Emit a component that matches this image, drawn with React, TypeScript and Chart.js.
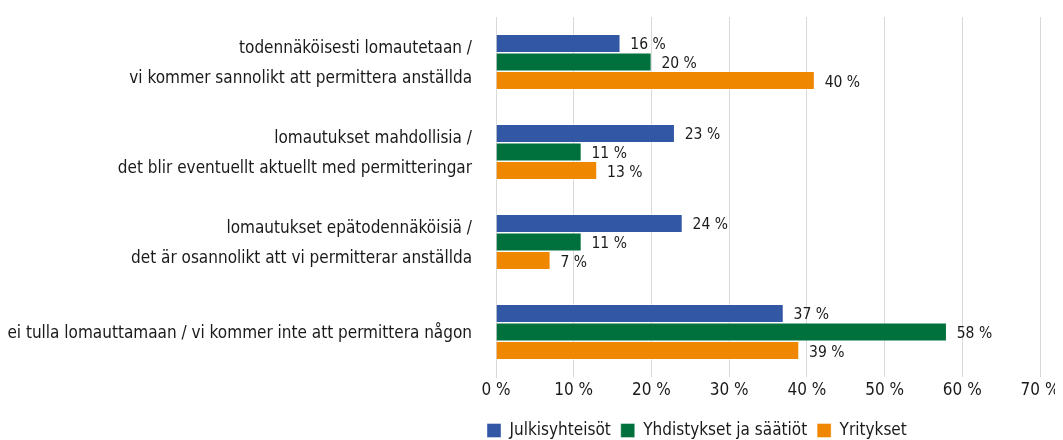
import React, { useEffect, useRef } from "react";
import { Chart, registerables } from "chart.js";

Chart.register(...registerables);

const categories: (string | string[])[] = [
  ["todennäköisesti lomautetaan /", "vi kommer sannolikt att permittera anställda"],
  ["lomautukset mahdollisia /", "det blir eventuellt aktuellt med permitteringar"],
  ["lomautukset epätodennäköisiä /", "det är osannolikt att vi permitterar anställda"],
  "ei tulla lomauttamaan / vi kommer inte att permittera någon",
];

const seriesNames = ["Julkisyhteisöt", "Yhdistykset ja säätiöt", "Yritykset"];

const julkisyhteisot = [16, 23, 24, 37];
const yhdistykset = [20, 11, 11, 58];
const yritykset = [41, 13, 7, 39];

const julkisyhteisotLabels = ["16 %", "23 %", "24 %", "37 %"];
const yhdistyksetLabels = ["20 %", "11 %", "11 %", "58 %"];
const yrityksetLabels = ["40 %", "13 %", "7 %", "39 %"];

const xTickValues = [0, 10, 20, 30, 40, 50, 60, 70];

const colors = ["#3157a5", "#00703c", "#f08700"];
const FONT = '"DejaVu Sans Condensed", "Liberation Sans Narrow", sans-serif';
const TEXT = "#1a1a1a";

const valueLabelPlugin = {
  id: "valueLabels",
  afterDatasetsDraw(chart: any) {
    const ctx = chart.ctx;
    const all = [julkisyhteisotLabels, yhdistyksetLabels, yrityksetLabels];
    ctx.save();
    ctx.font = `15.5px ${FONT}`;
    ctx.fillStyle = TEXT;
    ctx.textAlign = "left";
    ctx.textBaseline = "middle";
    chart.data.datasets.forEach((_ds: any, di: number) => {
      const meta = chart.getDatasetMeta(di);
      meta.data.forEach((el: any, i: number) => {
        ctx.fillText(all[di][i], el.x + 10, el.y + 2);
      });
    });
    ctx.restore();
  },
};

const legendShiftPlugin = {
  id: "legendShift",
  afterLayout(chart: any) {
    const lg = chart.legend;
    if (lg) {
      const shiftX = 19;
      const shiftY = 9;
      lg.left -= shiftX;
      lg.right -= shiftX;
      lg.top += shiftY;
      lg.bottom += shiftY;
    }
  },
};

export default function App() {
  const ref = useRef<HTMLCanvasElement | null>(null);
  useEffect(() => {
    document.body.style.overflow = "hidden";
    if (!ref.current) return;
    const chart = new Chart(ref.current, {
      type: "bar",
      data: {
        labels: categories,
        datasets: [
          { label: seriesNames[0], data: julkisyhteisot, backgroundColor: colors[0] },
          { label: seriesNames[1], data: yhdistykset, backgroundColor: colors[1] },
          { label: seriesNames[2], data: yritykset, backgroundColor: colors[2] },
        ].map((d) => ({
          ...d,
          borderColor: "rgba(255,255,255,0.5)",
          borderWidth: 0.8,
          categoryPercentage: 0.62,
          barPercentage: 1,
        })),
      },
      options: {
        indexAxis: "y",
        responsive: false,
        animation: false,
        layout: { padding: { top: 9, right: 23, left: 0, bottom: 0 } },
        scales: {
          x: {
            min: 0,
            max: 70,
            afterBuildTicks: (s: any) => {
              s.ticks = xTickValues.map((v) => ({ value: v }));
            },
            ticks: {
              callback: (v: any) => `${v} %`,
              font: { family: FONT, size: 17 },
              color: TEXT,
              padding: 3,
              maxRotation: 0,
            },
            grid: { color: "#d9d9d9", drawTicks: false, lineWidth: 1 },
            border: { display: false },
            afterFit: (s: any) => {
              s.height = 26;
              s.paddingRight = 0;
              s.paddingLeft = 0;
            },
          },
          y: {
            ticks: {
              font: { family: FONT, size: 17, lineHeight: 30 / 17 },
              color: TEXT,
              padding: 24,
              labelOffset: 2,
            },
            grid: { display: false, drawTicks: false },
            border: { color: "#d9d9d9" },
            afterFit: (s: any) => {
              s.width = 488;
              s.paddingTop = 0;
              s.paddingBottom = 0;
            },
          },
        },
        plugins: {
          legend: {
            position: "bottom",
            align: "start",
            fullSize: false,
            labels: {
              boxWidth: 14,
              boxHeight: 14,
              font: { family: FONT, size: 17 },
              color: TEXT,
              padding: 10,
            },
          },
          tooltip: { enabled: false },
        },
      },
      plugins: [valueLabelPlugin, legendShiftPlugin],
    } as any);
    return () => chart.destroy();
  }, []);
  return <canvas ref={ref} width={1055} height={432} style={{ display: "block" }} />;
}
